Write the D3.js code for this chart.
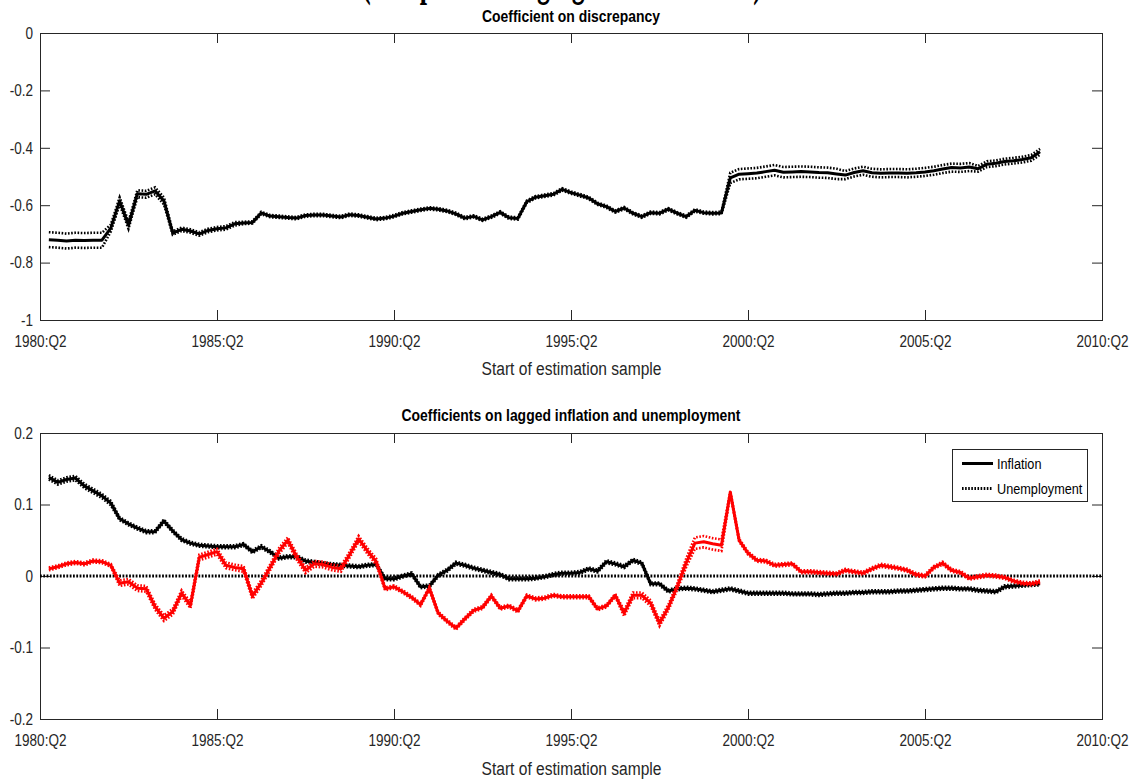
<!DOCTYPE html>
<html>
<head>
<meta charset="utf-8">
<script src="https://cdn.jsdelivr.net/npm/d3@7"></script>
<style>
  body { margin: 0; background: #fff; }
  svg { display: block; }
  svg text { font-family: "Liberation Sans", Arial, sans-serif; }
</style>
</head>
<body>
<svg id="chart" width="1142" height="784"></svg>
<script>
// First quarter of the rolling estimation samples
const firstObs = "1980:Q3";

// Shared x-axis tick labels
const xTickLabels = ["1980:Q2", "1985:Q2", "1990:Q2", "1995:Q2", "2000:Q2", "2005:Q2", "2010:Q2"];

const topYTicks = [0, -0.2, -0.4, -0.6, -0.8, -1];
const bottomYTicks = [0.2, 0.1, 0, -0.1, -0.2];

// Coefficient on discrepancy, by start of estimation sample
const discrepancy = [
  -0.720, -0.722, -0.725, -0.722, -0.723, -0.722, -0.722, -0.680, -0.585, -0.670,
  -0.560, -0.562, -0.550, -0.585, -0.697, -0.684, -0.690, -0.700, -0.688, -0.682,
  -0.679, -0.665, -0.662, -0.660, -0.627, -0.638, -0.640, -0.643, -0.645, -0.636,
  -0.634, -0.634, -0.638, -0.641, -0.633, -0.636, -0.642, -0.648, -0.645, -0.638,
  -0.628, -0.622, -0.616, -0.611, -0.614, -0.620, -0.630, -0.645, -0.639, -0.651,
  -0.640, -0.625, -0.644, -0.646, -0.588, -0.572, -0.567, -0.562, -0.545, -0.556,
  -0.565, -0.575, -0.595, -0.605, -0.622, -0.610, -0.628, -0.640, -0.626, -0.628,
  -0.614, -0.628, -0.640, -0.618, -0.626, -0.628, -0.627, -0.505, -0.492, -0.490,
  -0.488, -0.483, -0.478, -0.485, -0.484, -0.483, -0.484, -0.486, -0.487, -0.491,
  -0.495, -0.486, -0.480, -0.487, -0.489, -0.488, -0.488, -0.489, -0.487, -0.484,
  -0.480, -0.474, -0.469, -0.470, -0.467, -0.473, -0.457, -0.454, -0.448, -0.445,
  -0.441, -0.435, -0.414
];
// Half-width of the band around the discrepancy coefficient
const discrepancyBand = [
  0.026, 0.026, 0.026, 0.026, 0.026, 0.026, 0.026, 0.012, 0.012, 0.012,
  0.012, 0.012, 0.012, 0.012, 0.006, 0.006, 0.006, 0.006, 0.006, 0.006,
  0.006, 0.006, 0.004, 0.004, 0.004, 0.004, 0.004, 0.004, 0.004, 0.004,
  0.004, 0.004, 0.004, 0.004, 0.004, 0.004, 0.004, 0.004, 0.004, 0.004,
  0.004, 0.004, 0.004, 0.004, 0.004, 0.004, 0.004, 0.004, 0.004, 0.004,
  0.004, 0.004, 0.004, 0.004, 0.004, 0.004, 0.004, 0.004, 0.004, 0.004,
  0.004, 0.004, 0.004, 0.004, 0.004, 0.004, 0.004, 0.004, 0.004, 0.004,
  0.004, 0.004, 0.004, 0.004, 0.004, 0.004, 0.004, 0.018, 0.018, 0.018,
  0.018, 0.018, 0.018, 0.018, 0.018, 0.018, 0.018, 0.018, 0.018, 0.018,
  0.014, 0.014, 0.014, 0.014, 0.014, 0.014, 0.014, 0.014, 0.014, 0.014,
  0.014, 0.014, 0.014, 0.014, 0.014, 0.010, 0.010, 0.010, 0.010, 0.010,
  0.010, 0.010, 0.010
];

// Coefficient on lagged inflation
const inflation = [
  0.138, 0.131, 0.135, 0.137, 0.126, 0.119, 0.112, 0.102, 0.080, 0.073,
  0.067, 0.062, 0.062, 0.077, 0.063, 0.051, 0.046, 0.043, 0.042, 0.041,
  0.041, 0.041, 0.044, 0.034, 0.041, 0.034, 0.025, 0.027, 0.027, 0.021,
  0.019, 0.017, 0.016, 0.015, 0.014, 0.013, 0.015, 0.016, -0.004, -0.004,
  0.000, 0.003, -0.015, -0.014, 0.001, 0.008, 0.018, 0.015, 0.011, 0.008,
  0.005, 0.002, -0.004, -0.004, -0.004, -0.003, -0.001, 0.002, 0.004, 0.004,
  0.005, 0.010, 0.007, 0.020, 0.017, 0.013, 0.022, 0.018, -0.011, -0.011,
  -0.021, -0.018, -0.017, -0.018, -0.020, -0.022, -0.020, -0.018, -0.021, -0.024,
  -0.024, -0.024, -0.024, -0.024, -0.025, -0.025, -0.025, -0.026, -0.025, -0.024,
  -0.024, -0.023, -0.023, -0.022, -0.022, -0.022, -0.021, -0.021, -0.020, -0.019,
  -0.018, -0.017, -0.017, -0.018, -0.018, -0.020, -0.021, -0.022, -0.015, -0.014,
  -0.013, -0.012, -0.011
];
const inflationBand = [
  0.003, 0.003, 0.003, 0.003, 0.003, 0.003, 0.003, 0.003, 0.002, 0.002,
  0.002, 0.002, 0.002, 0.002, 0.002, 0.002, 0.002, 0.002, 0.002, 0.002,
  0.002, 0.002, 0.002, 0.002, 0.002, 0.002, 0.002, 0.002, 0.002, 0.002,
  0.002, 0.002, 0.002, 0.002, 0.002, 0.002, 0.002, 0.002, 0.002, 0.002,
  0.002, 0.002, 0.002, 0.002, 0.002, 0.002, 0.002, 0.002, 0.002, 0.002,
  0.002, 0.002, 0.002, 0.002, 0.002, 0.002, 0.002, 0.002, 0.002, 0.002,
  0.002, 0.002, 0.002, 0.002, 0.002, 0.002, 0.002, 0.002, 0.002, 0.002,
  0.002, 0.002, 0.002, 0.002, 0.002, 0.002, 0.002, 0.002, 0.002, 0.002,
  0.002, 0.002, 0.002, 0.002, 0.002, 0.002, 0.002, 0.002, 0.002, 0.002,
  0.002, 0.002, 0.002, 0.002, 0.002, 0.002, 0.002, 0.002, 0.002, 0.002,
  0.002, 0.002, 0.002, 0.002, 0.002, 0.002, 0.002, 0.002, 0.002, 0.002,
  0.002, 0.002, 0.002
];

// Coefficient on lagged unemployment
const unemployment = [
  0.010, 0.013, 0.017, 0.019, 0.017, 0.021, 0.020, 0.015, -0.010, -0.008,
  -0.017, -0.018, -0.043, -0.059, -0.050, -0.024, -0.041, 0.026, 0.030, 0.034,
  0.015, 0.012, 0.010, -0.028, -0.010, 0.012, 0.035, 0.050, 0.027, 0.008,
  0.017, 0.016, 0.012, 0.010, 0.030, 0.052, 0.035, 0.020, -0.018, -0.015,
  -0.022, -0.030, -0.040, -0.017, -0.052, -0.063, -0.073, -0.060, -0.048, -0.044,
  -0.028, -0.045, -0.042, -0.049, -0.028, -0.032, -0.031, -0.027, -0.029, -0.029,
  -0.029, -0.029, -0.046, -0.042, -0.027, -0.052, -0.027, -0.027, -0.038, -0.066,
  -0.044, -0.015, 0.018, 0.046, 0.048, 0.045, 0.043, 0.117, 0.050, 0.032,
  0.022, 0.021, 0.015, 0.016, 0.017, 0.006, 0.006, 0.005, 0.004, 0.003,
  0.008, 0.006, 0.004, 0.010, 0.015, 0.013, 0.011, 0.008, 0.002, 0.000,
  0.012, 0.018, 0.008, 0.005, -0.003, -0.001, 0.001, 0.000, -0.002, -0.007,
  -0.010, -0.011, -0.008
];
const unemploymentBand = [
  0.002, 0.002, 0.002, 0.002, 0.002, 0.002, 0.002, 0.002, 0.004, 0.004,
  0.004, 0.004, 0.004, 0.004, 0.004, 0.004, 0.004, 0.004, 0.004, 0.004,
  0.004, 0.004, 0.004, 0.004, 0.004, 0.004, 0.004, 0.004, 0.004, 0.004,
  0.004, 0.004, 0.004, 0.004, 0.004, 0.004, 0.004, 0.004, 0.002, 0.002,
  0.002, 0.002, 0.002, 0.002, 0.002, 0.002, 0.002, 0.002, 0.002, 0.002,
  0.002, 0.002, 0.002, 0.002, 0.002, 0.002, 0.002, 0.002, 0.002, 0.002,
  0.002, 0.002, 0.002, 0.002, 0.002, 0.004, 0.004, 0.004, 0.004, 0.004,
  0.004, 0.004, 0.006, 0.008, 0.008, 0.008, 0.008, 0.002, 0.002, 0.002,
  0.002, 0.002, 0.002, 0.002, 0.002, 0.002, 0.002, 0.002, 0.002, 0.002,
  0.002, 0.002, 0.002, 0.002, 0.002, 0.002, 0.002, 0.002, 0.002, 0.002,
  0.002, 0.002, 0.002, 0.002, 0.002, 0.002, 0.002, 0.002, 0.002, 0.002,
  0.002, 0.002, 0.002
];

// ---- layout ----
const svg = d3.select("#chart");
const plotLeft = 40, plotRight = 1102;
const axisColor = "#262626";
const narrow = 0.82;   // horizontal squeeze giving a condensed sans look

const quarterIndex = s => {
  const [yr, q] = s.split(":Q").map(Number);
  return yr * 4 + (q - 1);
};
const q0 = quarterIndex(xTickLabels[0]);
const firstIdx = quarterIndex(firstObs) - q0;

const x = d3.scaleLinear()
  .domain([0, quarterIndex(xTickLabels[xTickLabels.length - 1]) - q0])
  .range([plotLeft, plotRight]);

// Figure heading; it sits above the page, so only its descenders show
svg.append("text")
  .attr("x", 362).attr("y", -5)
  .attr("textLength", 400).attr("lengthAdjust", "spacingAndGlyphs")
  .style("font-family", "'Liberation Serif', 'Times New Roman', serif")
  .style("font-weight", "bold")
  .style("font-size", "48px")
  .attr("fill", "#000")
  .text("(Sample is changing with start date)");

function narrowText(x0, y0, str, size, weight, anchor, fill) {
  return svg.append("text")
    .attr("transform", `translate(${x0},${y0}) scale(${narrow},1)`)
    .attr("text-anchor", anchor)
    .style("font-size", size + "px")
    .style("font-weight", weight)
    .attr("fill", fill)
    .text(str);
}

function drawPanel(cfg) {
  const y = d3.scaleLinear().domain(cfg.yDomain).range([cfg.bottom, cfg.top]);
  const g = svg.append("g");

  g.append("rect")
    .attr("x", plotLeft).attr("y", cfg.top)
    .attr("width", plotRight - plotLeft).attr("height", cfg.bottom - cfg.top)
    .attr("fill", "#fff");

  const tickText = sel => sel.selectAll("text")
    .attr("fill", axisColor).style("font-size", "16.5px")
    .attr("transform", `scale(${narrow},1)`);
  const xTickVals = xTickLabels.map(s => quarterIndex(s) - q0);

  // bottom axis with labels, ticks pointing inward
  g.append("g").attr("transform", `translate(0,${cfg.bottom})`)
    .call(d3.axisBottom(x)
      .tickValues(xTickVals)
      .tickFormat((d, i) => xTickLabels[i])
      .tickSizeInner(-10).tickSizeOuter(0).tickPadding(15))
    .call(a => a.select(".domain").remove())
    .call(a => a.selectAll("line").attr("stroke", axisColor))
    .call(tickText);

  // top axis: ticks only
  g.append("g").attr("transform", `translate(0,${cfg.top})`)
    .call(d3.axisTop(x).tickValues(xTickVals)
      .tickFormat("").tickSizeInner(-10).tickSizeOuter(0))
    .call(a => a.select(".domain").remove())
    .call(a => a.selectAll("line").attr("stroke", axisColor));

  // left axis with labels
  g.append("g").attr("transform", `translate(${plotLeft},0)`)
    .call(d3.axisLeft(y).tickValues(cfg.yTicks).tickFormat(d => String(d))
      .tickSizeInner(-10).tickSizeOuter(0).tickPadding(8.5))
    .call(a => a.select(".domain").remove())
    .call(a => a.selectAll("line").attr("stroke", axisColor))
    .call(tickText);

  // right axis: ticks only
  g.append("g").attr("transform", `translate(${plotRight},0)`)
    .call(d3.axisRight(y).tickValues(cfg.yTicks).tickFormat("")
      .tickSizeInner(-10).tickSizeOuter(0))
    .call(a => a.select(".domain").remove())
    .call(a => a.selectAll("line").attr("stroke", axisColor));

  // box
  g.append("rect")
    .attr("x", plotLeft + 0.5).attr("y", cfg.top + 0.5)
    .attr("width", plotRight - plotLeft).attr("height", cfg.bottom - cfg.top)
    .attr("fill", "none").attr("stroke", axisColor).attr("stroke-width", 1);

  // titles
  narrowText((plotLeft + plotRight) / 2, cfg.titleY, cfg.title, 17, "bold", "middle", "#000");
  narrowText((plotLeft + plotRight) / 2 + 0.5, cfg.xLabelY, "Start of estimation sample", 19, "normal", "middle", axisColor);

  return { g, y };
}

function drawEstimate(g, y, values, band, color, dots) {
  const line = d3.line().x((d, i) => x(firstIdx + i)).y(d => y(d));
  const upper = values.map((v, i) => v + band[i]);
  const lower = values.map((v, i) => v - band[i]);
  g.append("path").datum(values).attr("d", line)
    .attr("fill", "none").attr("stroke", color).attr("stroke-width", 3)
    .attr("stroke-linejoin", "round");
  [upper, lower].forEach(b => {
    g.append("path").datum(b).attr("d", line)
      .attr("fill", "none").attr("stroke", color).attr("stroke-width", 2.6)
      .attr("stroke-dasharray", dots);
  });
}

// ---- upper panel ----
const upperPanel = drawPanel({
  top: 33, bottom: 320, yDomain: [-1, 0], yTicks: topYTicks,
  title: "Coefficient on discrepancy", titleY: 22, xLabelY: 375
});
drawEstimate(upperPanel.g, upperPanel.y, discrepancy, discrepancyBand, "#000", "1.6,1.6");

// ---- lower panel ----
const lowerPanel = drawPanel({
  top: 433, bottom: 719, yDomain: [-0.2, 0.2], yTicks: bottomYTicks,
  title: "Coefficients on lagged inflation and unemployment", titleY: 421, xLabelY: 775
});
lowerPanel.g.append("line")
  .attr("x1", plotLeft).attr("x2", plotRight)
  .attr("y1", lowerPanel.y(0)).attr("y2", lowerPanel.y(0))
  .attr("stroke", "#000").attr("stroke-width", 3).attr("stroke-dasharray", "1.8,1.5");
drawEstimate(lowerPanel.g, lowerPanel.y, inflation, inflationBand, "#000", "1.6,1.6");
drawEstimate(lowerPanel.g, lowerPanel.y, unemployment, unemploymentBand, "#ff0000", "1.6,1.6");

// legend
const leg = svg.append("g").attr("transform", "translate(952,449)");
leg.append("rect").attr("x", 0.5).attr("y", 0.5).attr("width", 135).attr("height", 52)
  .attr("fill", "#fff").attr("stroke", axisColor);
const legendItems = [
  { label: "Inflation", dash: null },
  { label: "Unemployment", dash: "1.6,1.5" }
];
legendItems.forEach((it, i) => {
  const yy = 14.5 + i * 25;
  leg.append("line").attr("x1", 10).attr("x2", 41).attr("y1", yy).attr("y2", yy)
    .attr("stroke", "#000").attr("stroke-width", 3)
    .attr("stroke-dasharray", it.dash);
  leg.append("text")
    .attr("transform", `translate(45,${yy + 5.5}) scale(${narrow},1)`)
    .style("font-size", "15.5px").attr("fill", "#000").text(it.label);
});
</script>
</body>
</html>
